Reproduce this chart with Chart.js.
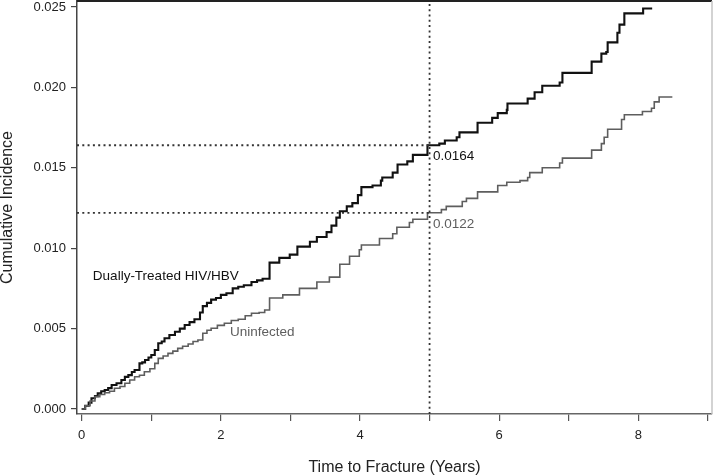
<!DOCTYPE html>
<html>
<head>
<meta charset="utf-8">
<script src="https://cdn.jsdelivr.net/npm/chart.js@4.4.1/dist/chart.umd.min.js"></script>
<style>
  html, body { margin: 0; padding: 0; background: #fff; }
  #wrap { width: 713px; height: 476px; position: relative; }
</style>
</head>
<body>
<div id="wrap"><canvas id="c" width="713" height="476"></canvas></div>
<script>
// ---- Data ----
// Dually-Treated HIV/HBV: time of each jump (years) and cumulative incidence after it
const dualTimes = [0, 0.05, 0.10, 0.14, 0.19, 0.23, 0.28, 0.33, 0.38, 0.43, 0.50, 0.57, 0.62, 0.67, 0.72, 0.76, 0.83, 0.87, 0.91, 0.96, 1.00, 1.05, 1.10, 1.15, 1.19, 1.26, 1.34, 1.41, 1.48, 1.55, 1.62, 1.70, 1.74, 1.80, 1.86, 1.93, 2.00, 2.08, 2.17, 2.25, 2.33, 2.44, 2.52, 2.60, 2.70,
  2.84, 2.99, 3.10, 3.28, 3.38, 3.52, 3.59, 3.66, 3.71, 3.81, 3.89, 3.97, 4.02, 4.18, 4.30, 4.32, 4.47, 4.54, 4.68, 4.76, 4.97, 5.14, 5.22, 5.39, 5.43, 5.69, 5.90, 5.98, 6.11, 6.12, 6.41, 6.51, 6.62, 6.87, 6.91, 7.33, 7.47, 7.54, 7.56, 7.70, 7.73, 7.80, 8.07, 8.20];
const dualValues = [0, 0.0002, 0.0004, 0.00067, 0.0008, 0.00098, 0.0011, 0.00118, 0.0013, 0.00149, 0.0016, 0.0018, 0.0020, 0.00211, 0.0023, 0.00243, 0.00284, 0.0029, 0.00305, 0.0032, 0.00336, 0.00367, 0.00409, 0.0042, 0.0044, 0.0046, 0.0048, 0.0050, 0.00522, 0.0054, 0.00558, 0.0060, 0.0064, 0.0066, 0.0068, 0.0069, 0.0071, 0.0072, 0.0075, 0.0076, 0.0077, 0.0079, 0.0080, 0.0081, 0.0091,
  0.0094, 0.0096, 0.0101, 0.0104, 0.0107, 0.0110, 0.0114, 0.0119, 0.0123, 0.0126, 0.0128, 0.0133, 0.0138, 0.0139, 0.0142, 0.0144, 0.0147, 0.0152, 0.0154, 0.0158, 0.0164, 0.0165, 0.0167, 0.0169, 0.0172, 0.0178, 0.0181, 0.0184, 0.0186, 0.0190, 0.0193, 0.0197, 0.0201, 0.0203, 0.0209, 0.0216, 0.0221, 0.0222, 0.0228, 0.0234, 0.0239, 0.0246, 0.0249, 0.0249];

// Uninfected
const uninfTimes = [0, 0.05, 0.12, 0.19, 0.26, 0.33, 0.40, 0.47, 0.55, 0.62, 0.69, 0.76, 0.83, 0.90, 0.98, 1.05, 1.10, 1.17, 1.24, 1.31, 1.38, 1.45, 1.53, 1.60, 1.67, 1.74, 1.80, 1.86, 1.95, 2.05, 2.15, 2.25, 2.35, 2.44, 2.55, 2.63, 2.70,
  2.89, 3.13, 3.38, 3.56, 3.71, 3.85, 3.99, 4.02, 4.28, 4.47, 4.53, 4.71, 4.76, 4.97, 5.17, 5.24, 5.47, 5.53, 5.69, 5.98, 6.11, 6.30, 6.41, 6.44, 6.62, 6.87, 6.91, 7.33, 7.47, 7.51, 7.56, 7.76, 7.80, 8.06, 8.19, 8.23, 8.30, 8.49];
const uninfValues = [0, 0.0002, 0.0005, 0.00077, 0.0009, 0.00101, 0.0011, 0.00129, 0.0014, 0.0016, 0.0018, 0.00201, 0.0021, 0.00232, 0.0025, 0.00284, 0.00315, 0.0033, 0.00346, 0.0036, 0.00377, 0.0039, 0.00404, 0.0042, 0.00429, 0.00471, 0.0049, 0.00502, 0.0052, 0.00533, 0.0055, 0.00558, 0.0058, 0.00595, 0.0060, 0.00616, 0.0069,
  0.0071, 0.0075, 0.0079, 0.0082, 0.0090, 0.0095, 0.0099, 0.0102, 0.0106, 0.0109, 0.0113, 0.0116, 0.0118, 0.0122, 0.0124, 0.0126, 0.0129, 0.0131, 0.0135, 0.0139, 0.0141, 0.0142, 0.0144, 0.0147, 0.0150, 0.0153, 0.0156, 0.0161, 0.0165, 0.0169, 0.0174, 0.0180, 0.0183, 0.0185, 0.0187, 0.0191, 0.0194, 0.0194];

// Reference marks at 5 years
const refTime = 5;
const refDual = 0.0164;
const refUninf = 0.0122;

// Axes
const xTicks = [0, 1, 2, 3, 4, 5, 6, 7, 8, 9];
const xLabeled = [0, 2, 4, 6, 8];
const yTicks = [0, 0.005, 0.010, 0.015, 0.020, 0.025];
const xRange = [-0.068, 9.06];
const yRange = [-0.00031, 0.02537];

const seriesNames = ['Dually-Treated HIV/HBV', 'Uninfected'];
const xTitle = 'Time to Fracture (Years)';
const yTitle = 'Cumulative Incidence';

// ---- Build datasets ----
const toXY = (xs, ys) => xs.map((x, i) => ({ x: x, y: ys[i] }));
const FONT = "'Liberation Sans', Arial, Helvetica, sans-serif";
const BLACK = '#111111';
const GRAY = '#5e5e5e';

const dotted = { borderColor: '#333333', borderWidth: 1.8, borderDash: [2, 3.3], pointRadius: 0, fill: false, tension: 0 };

const datasets = [
  Object.assign({ label: 'refV', data: [{ x: refTime, y: yRange[0] }, { x: refTime, y: yRange[1] }] }, dotted),
  Object.assign({ label: 'refH1', data: [{ x: xRange[0], y: refDual }, { x: refTime, y: refDual }] }, dotted),
  Object.assign({ label: 'refH2', data: [{ x: xRange[0], y: refUninf }, { x: refTime, y: refUninf }] }, dotted),
  { label: seriesNames[1], data: toXY(uninfTimes, uninfValues), borderColor: GRAY, borderWidth: 1.6, stepped: 'before', pointRadius: 0, fill: false },
  { label: seriesNames[0], data: toXY(dualTimes, dualValues), borderColor: BLACK, borderWidth: 2.1, stepped: 'before', pointRadius: 0, fill: false }
];

// Text labels placed in data coordinates
const textLabels = [
  { text: seriesNames[0], x: 0.16, y: 0.00827, color: '#111111' },
  { text: seriesNames[1], x: 2.13, y: 0.00479, color: '#5e5e5e' },
  { text: refDual.toFixed(4), x: 5.05, y: 0.01573, color: '#111111' },
  { text: refUninf.toFixed(4), x: 5.05, y: 0.0115, color: '#5e5e5e' }
];

const decor = {
  id: 'decor',
  afterDatasetsDraw(chart) {
    const { ctx, chartArea: a, scales } = chart;
    ctx.save();
    // frame: top (dark) and right (light)
    ctx.strokeStyle = '#222222';
    ctx.lineWidth = 2;
    ctx.beginPath(); ctx.moveTo(a.left, a.top); ctx.lineTo(a.right, a.top); ctx.stroke();
    ctx.strokeStyle = '#c4c4c4';
    ctx.lineWidth = 1.5;
    ctx.beginPath(); ctx.moveTo(a.right, a.top); ctx.lineTo(a.right, a.bottom); ctx.stroke();
    // labels
    ctx.font = '13.5px ' + FONT;
    ctx.textAlign = 'left';
    ctx.textBaseline = 'middle';
    textLabels.forEach(l => {
      ctx.fillStyle = l.color;
      ctx.fillText(l.text, scales.x.getPixelForValue(l.x), scales.y.getPixelForValue(l.y));
    });
    ctx.restore();
  }
};

new Chart(document.getElementById('c'), {
  type: 'line',
  data: { datasets: datasets },
  options: {
    responsive: false,
    animation: false,
    devicePixelRatio: 1,
    layout: { padding: { top: 1, right: 1, left: 0, bottom: 0 } },
    plugins: { legend: { display: false }, tooltip: { enabled: false } },
    elements: { line: { tension: 0 } },
    scales: {
      x: {
        type: 'linear',
        min: xRange[0], max: xRange[1],
        afterBuildTicks: s => { s.ticks = xTicks.map(v => ({ value: v })); },
        afterFit: s => { s.height = 62; s.paddingLeft = 0; s.paddingRight = 0; s.paddingTop = 0; s.paddingBottom = 0; },
        ticks: {
          autoSkip: false, maxRotation: 0, padding: 7,
          color: '#222222', font: { family: FONT, size: 13 },
          callback: v => (xLabeled.includes(v) ? String(v) : '')
        },
        grid: { drawOnChartArea: false, drawTicks: true, tickLength: 7, color: '#555555', lineWidth: 1.2 },
        border: { display: true, color: '#666666', width: 1.6 },
        title: { display: true, text: xTitle, color: '#222222', font: { family: FONT, size: 16, lineHeight: 1 }, padding: { top: 0, bottom: 0 } }
      },
      y: {
        type: 'linear',
        min: yRange[0], max: yRange[1],
        afterBuildTicks: s => { s.ticks = yTicks.map(v => ({ value: v })); },
        afterFit: s => { s.width = 77; s.paddingLeft = 0; s.paddingRight = 0; s.paddingTop = 0; s.paddingBottom = 0; },
        ticks: {
          autoSkip: false, padding: 5,
          color: '#222222', font: { family: FONT, size: 13 },
          callback: v => Number(v).toFixed(3)
        },
        grid: { drawOnChartArea: false, drawTicks: true, tickLength: 6, color: '#444444', lineWidth: 1.2 },
        border: { display: true, color: '#444444', width: 1.5 },
        title: { display: true, text: yTitle, color: '#222222', font: { family: FONT, size: 16, lineHeight: 1 }, padding: { top: 0, bottom: 0 } }
      }
    }
  },
  plugins: [decor]
});
</script>
</body>
</html>
